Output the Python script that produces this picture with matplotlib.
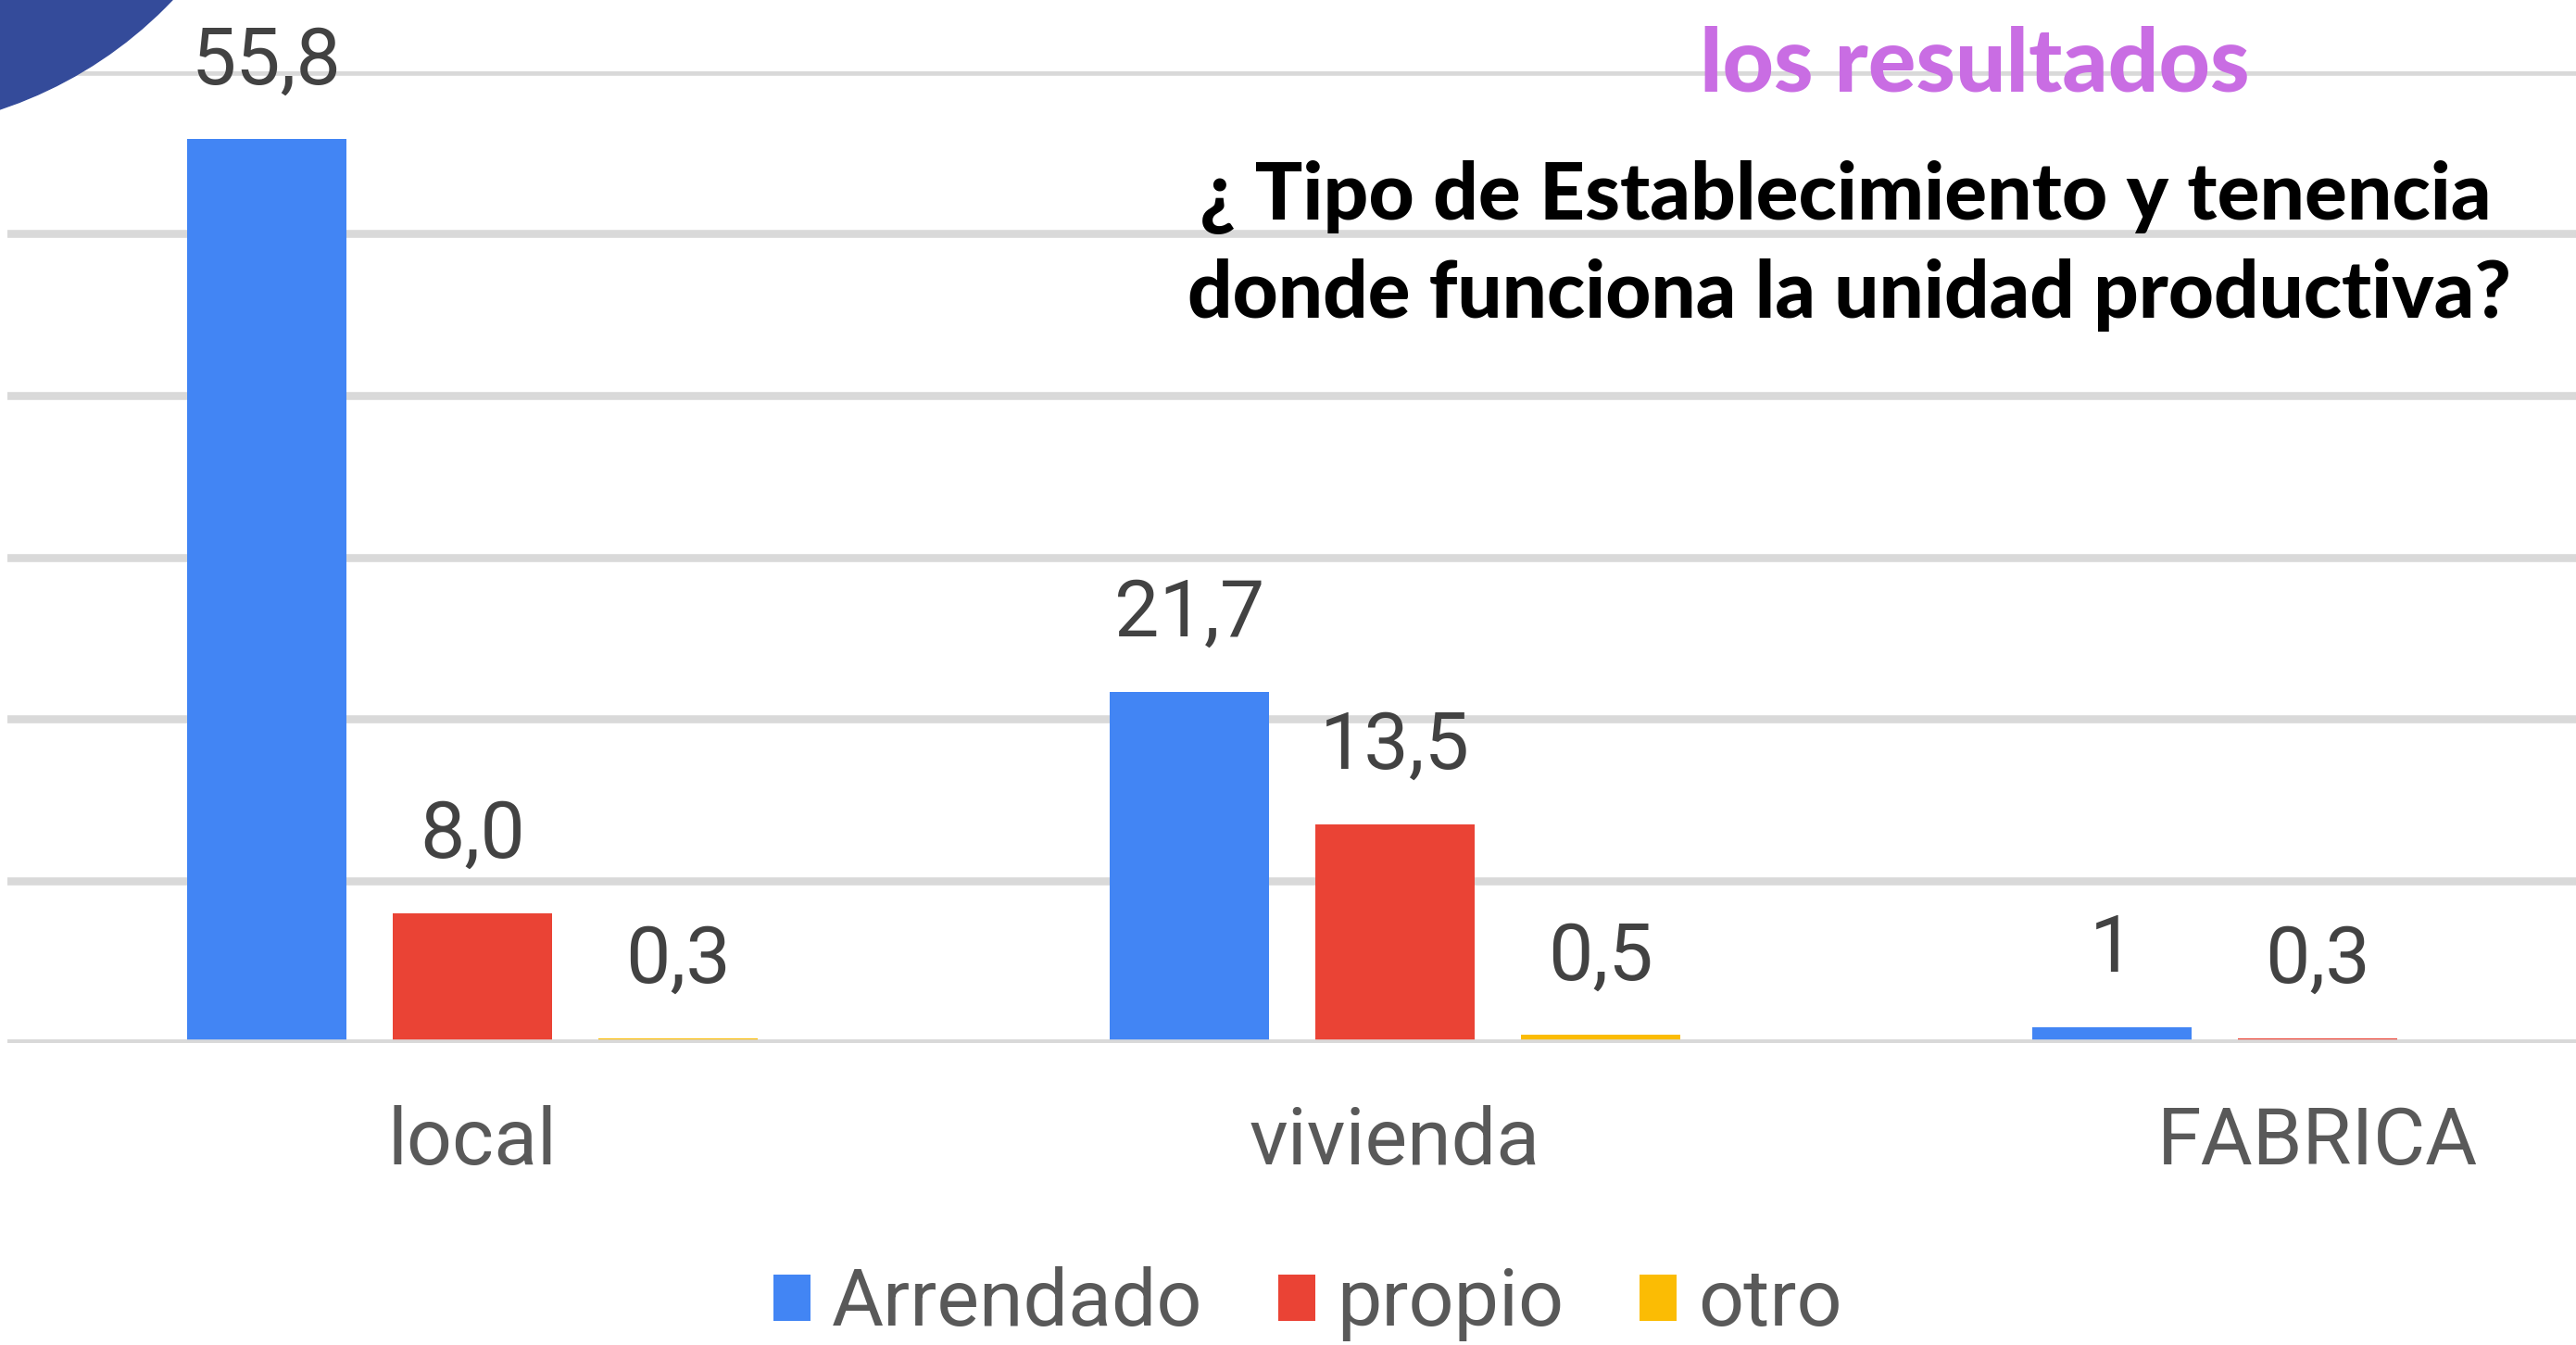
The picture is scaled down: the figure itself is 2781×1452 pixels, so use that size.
import numpy as np
import matplotlib
matplotlib.use("Agg")
import matplotlib.pyplot as plt
from matplotlib.patches import Ellipse

# ---- data ----
categories = ["local", "vivienda", "FABRICA"]
series_names = ["Arrendado", "propio", "otro"]
arrendado = [55.8, 21.7, 1.0]
propio = [8.0, 13.5, 0.3]
otro = [0.3, 0.5, np.nan]
arrendado_labels = ["55,8", "21,7", "1"]
propio_labels = ["8,0", "13,5", "0,3"]
otro_labels = ["0,3", "0,5", ""]
yticks = [0, 10, 20, 30, 40, 50, 60]

colors = ["#4285F4", "#EA4335", "#FBBC04"]
grid_color = "#D9D9D9"

W, H = 2781, 1452
fig = plt.figure(figsize=(W / 100, H / 100), dpi=100)
ax = fig.add_axes([8 / W, 1 - 1126 / H, 1 - 8 / W, (1126 - 77) / H])

x = np.arange(len(categories))
bw = 0.173
step = 0.223
font = ["Roboto", "DejaVu Sans"]

all_vals = [arrendado, propio, otro]
all_labels = [arrendado_labels, propio_labels, otro_labels]
handles = []
for i, (vals, labs) in enumerate(zip(all_vals, all_labels)):
    pos = x + (i - 1) * step
    b = ax.bar(pos, vals, width=bw, color=colors[i], zorder=2, label=series_names[i])
    handles.append(b)
    for p, v, lab in zip(pos, vals, labs):
        if lab and not np.isnan(v):
            ax.annotate(lab, xy=(p, v), xytext=(0, 43.2), textcoords="offset points",
                        ha="center", va="baseline", fontsize=62, color="#424242",
                        family=font, zorder=4)

ax.set_ylim(0, 60)
ax.set_xlim(-0.504, 2.280)
ax.set_yticks(yticks)
ax.set_yticklabels([])
ax.set_xticks([])
ax.tick_params(length=0)
ax.grid(axis="y", color=grid_color, linewidth=6.2, zorder=0)
ax.set_axisbelow(True)
ax.axhline(0, color=grid_color, linewidth=6.2, zorder=3)
for s in ax.spines.values():
    s.set_visible(False)

for xi, cat in zip(x, categories):
    ax.annotate(cat, xy=(xi, 0), xytext=(0, -94.3), textcoords="offset points",
                ha="center", va="baseline", fontsize=62, color="#595959", family=font,
                annotation_clip=False)

leg = fig.legend(handles=handles, labels=series_names, loc="center",
                 bbox_to_anchor=(1412 / W, 1 - 1408 / H), ncol=3, frameon=False,
                 prop={"family": font, "size": 62}, handlelength=0.46, handleheight=0.52,
                 handletextpad=0.27, columnspacing=0.95, borderaxespad=0, borderpad=0)
for t in leg.get_texts():
    t.set_color("#595959")

# corner decoration
r = 454
fig.add_artist(Ellipse((-143 / W, 1 + 313 / H), 2 * r / W, 2 * r / H,
                       transform=fig.transFigure, color="#344B9A", zorder=5))

# titles
title_font = ["Lato", "DejaVu Sans"]
t0 = fig.text(2132 / W, 1 - 71 / H, "los resultados", ha="center", va="center",
              fontsize=50, color="#C96DE3", family=title_font, weight="black")
t1 = fig.text(1992 / W, 1 - 213 / H, "¿ Tipo de Establecimiento y tenencia", ha="center",
              va="center", fontsize=50, color="black", family=title_font, weight="black")
t2 = fig.text(1997 / W, 1 - 319 / H, "donde funciona la unidad productiva?", ha="center",
              va="center", fontsize=50, color="black", family=title_font, weight="black")

fig.canvas.draw()
r_ = fig.canvas.get_renderer()
for t, target in [(t0, 594), (t1, 1396), (t2, 1433)]:
    w = t.get_window_extent(r_).width
    t.set_fontsize(50 * target / w)

fig.savefig("out.png", dpi=100)
